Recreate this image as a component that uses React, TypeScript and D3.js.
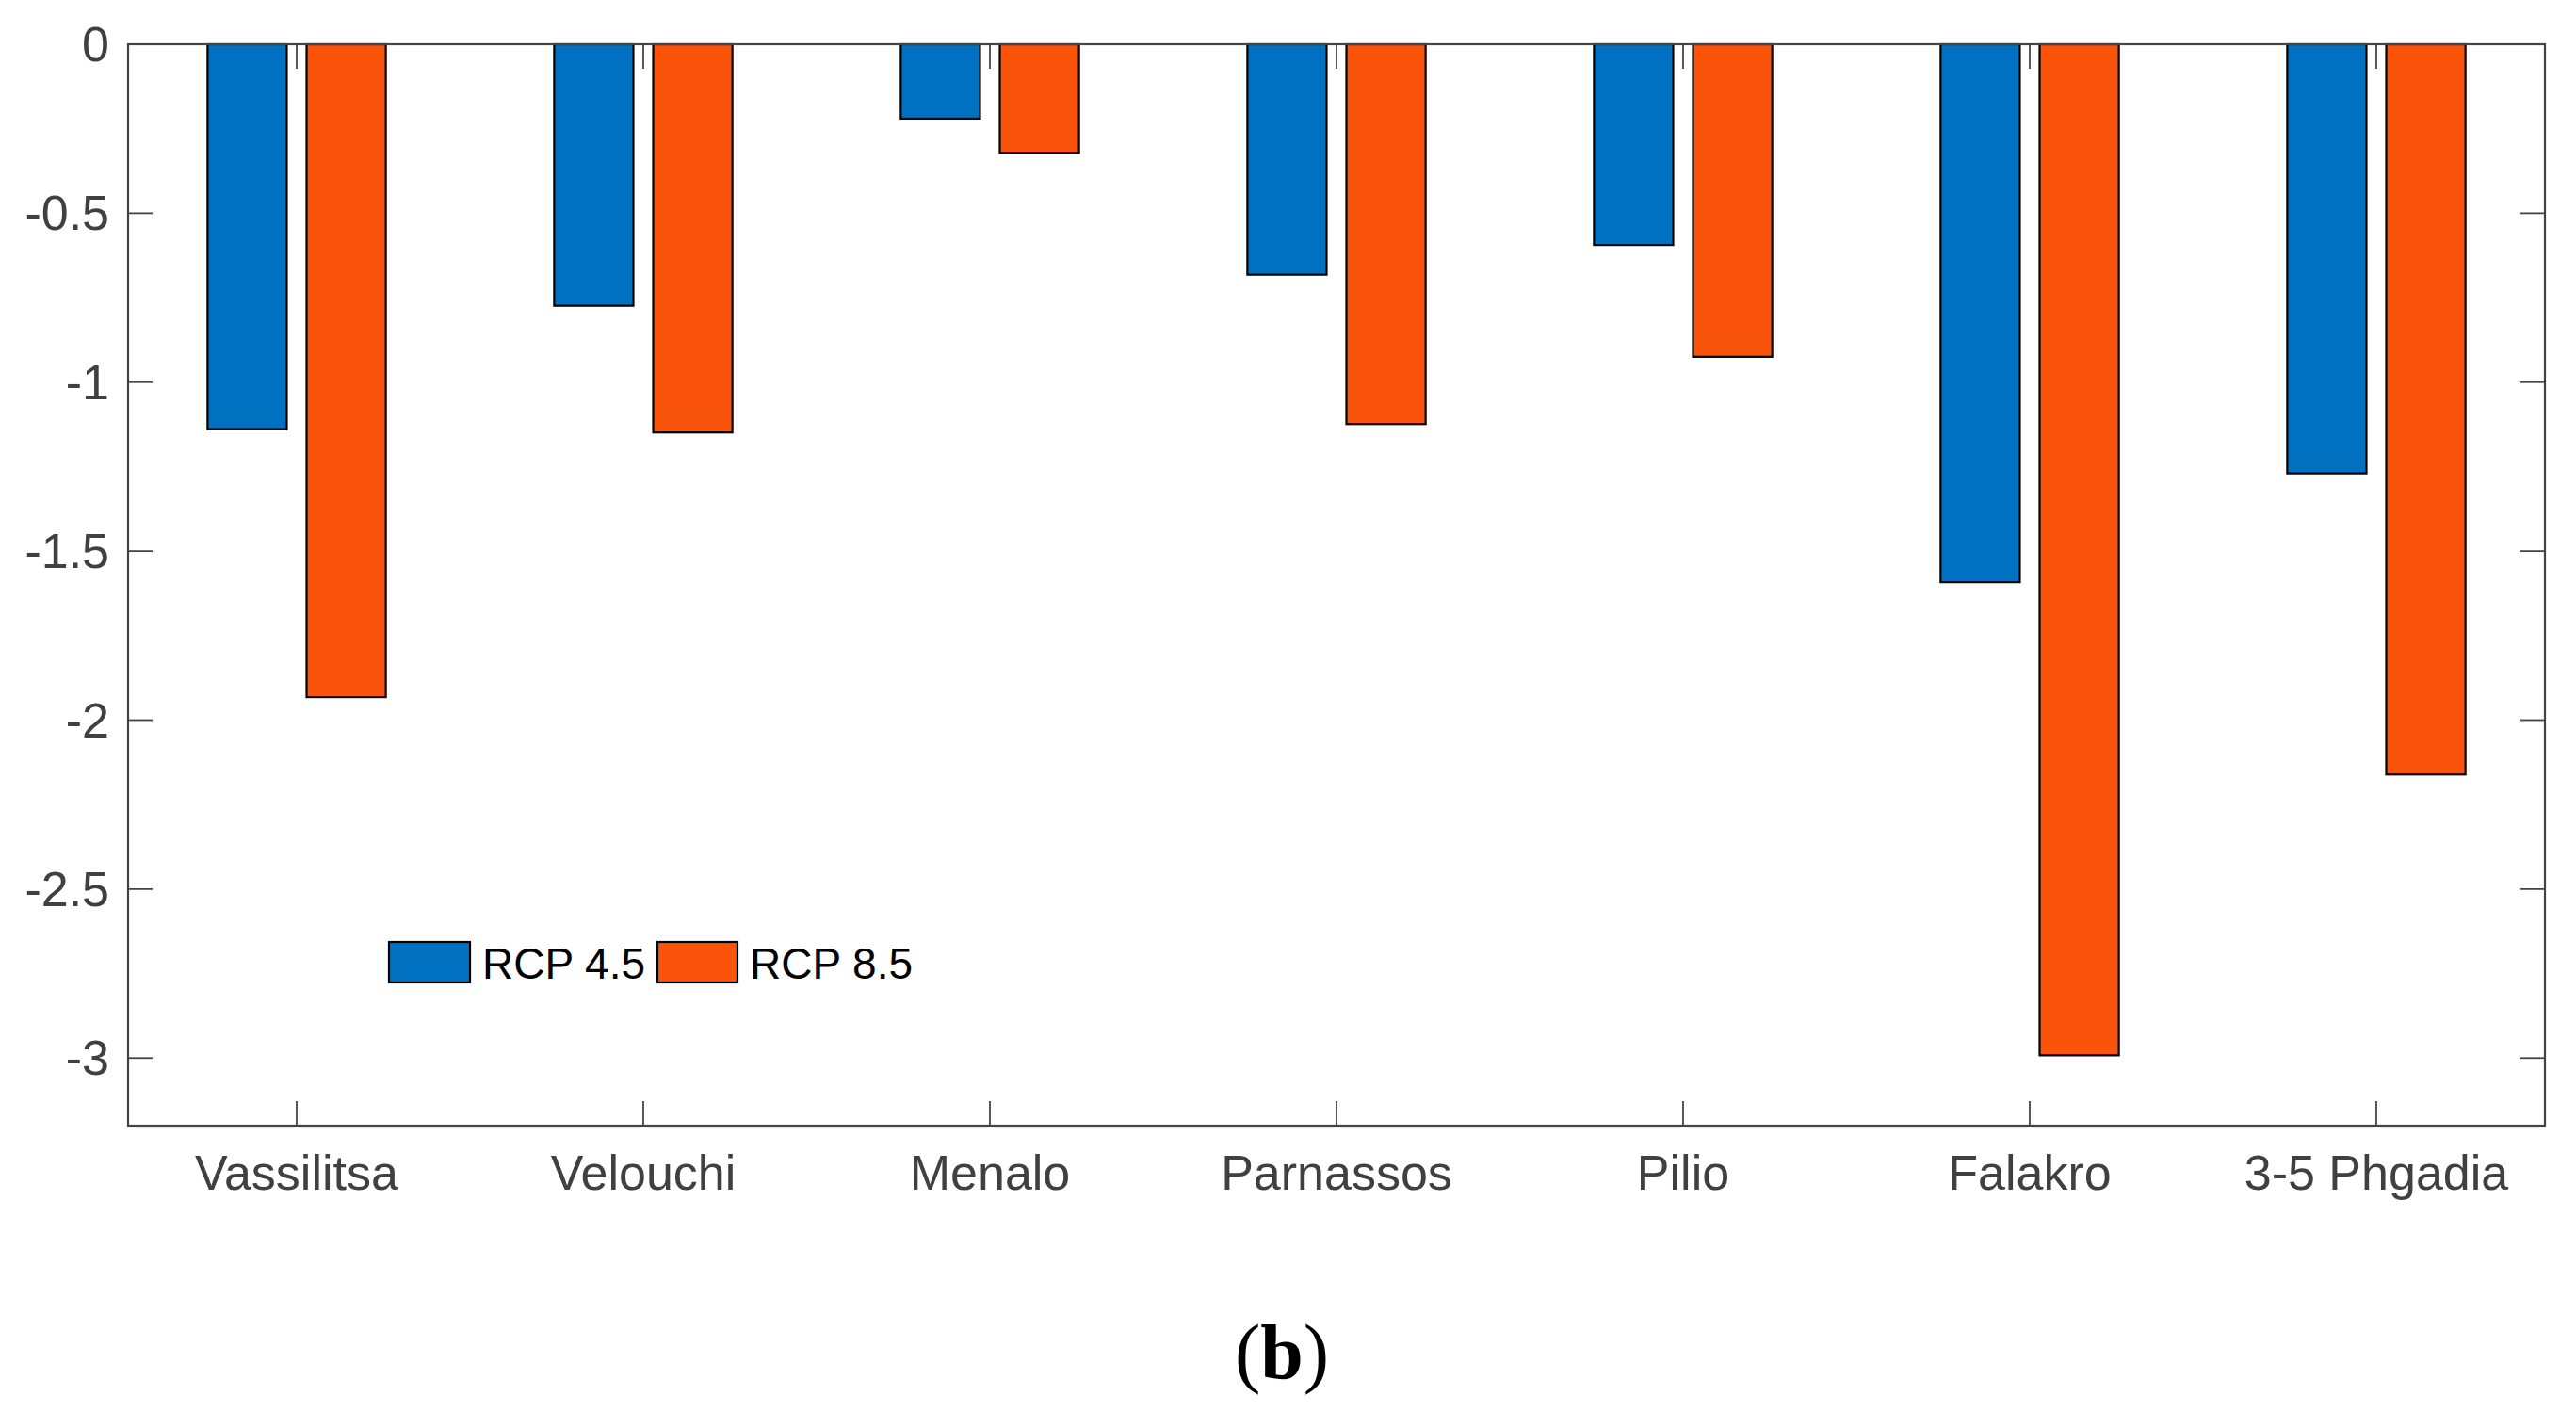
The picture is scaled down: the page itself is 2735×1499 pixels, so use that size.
import React from "react";
import * as d3 from "d3";

const categories = ["Vassilitsa", "Velouchi", "Menalo", "Parnassos", "Pilio", "Falakro", "3-5 Phgadia"];
const seriesNames = ["RCP 4.5", "RCP 8.5"];
const rcp45 = [-1.139, -0.774, -0.22, -0.682, -0.594, -1.592, -1.27];
const rcp85 = [-1.932, -1.149, -0.3215, -1.124, -0.925, -2.992, -2.161];
const yTicks = [0, -0.5, -1, -1.5, -2, -2.5, -3];
const yTickLabels = ["0", "-0.5", "-1", "-1.5", "-2", "-2.5", "-3"];
const seriesColors = ["#0072C1", "#FA530B"];
const panelLabel = "b";

const W = 2735;
const H = 1499;
const left = 136;
const right = 2702;
const top = 47;
const bottom = 1195;
const axisColor = "#444444";
const font = "'Liberation Sans', Arial, Helvetica, sans-serif";

export default function App() {
  const margin = 179 / 368;
  const x = d3
    .scaleLinear()
    .domain([1 - margin, categories.length + margin])
    .range([left, right]);
  const y = d3.scaleLinear().domain([-3.2, 0]).range([bottom, top]);
  const groupWidth = Math.min(0.8, 2 / (2 + 1.5));
  const barW = (groupWidth / 2) * 0.8;
  const offsets = [-groupWidth / 4, groupWidth / 4];
  const series = [rcp45, rcp85];
  const tickLen = 26;

  return (
    <svg
      width={W}
      height={H}
      style={{ position: "fixed", left: 0, top: 0, background: "#fff" }}
    >
      <rect x={0} y={0} width={W} height={H} fill="#fff" />
      {/* bars */}
      {series.map((vals, si) =>
        vals.map((v, i) => {
          const cx = x(i + 1) + (x(offsets[si]) - x(0));
          const w = x(barW) - x(0);
          const y0 = y(0);
          const y1 = y(v);
          return (
            <rect
              key={`b${si}-${i}`}
              x={cx - w / 2}
              y={Math.min(y0, y1)}
              width={w}
              height={Math.abs(y1 - y0)}
              fill={seriesColors[si]}
              stroke="#000"
              strokeWidth={2.2}
            />
          );
        })
      )}
      {/* y ticks */}
      {yTicks.map((t, i) => (
        <g key={`yt${i}`}>
          <line x1={left} x2={left + tickLen} y1={y(t)} y2={y(t)} stroke={axisColor} strokeWidth={1.8} />
          <line x1={right - tickLen} x2={right} y1={y(t)} y2={y(t)} stroke={axisColor} strokeWidth={1.8} />
          <text
            x={left - 20}
            y={y(t)}
            textAnchor="end"
            dominantBaseline="central"
            fontFamily={font}
            fontSize={52}
            fill="#404040"
          >
            {yTickLabels[i]}
          </text>
        </g>
      ))}
      {/* x ticks */}
      {categories.map((c, i) => (
        <g key={`xt${i}`}>
          <line x1={x(i + 1)} x2={x(i + 1)} y1={bottom} y2={bottom - tickLen} stroke={axisColor} strokeWidth={1.8} />
          <line x1={x(i + 1)} x2={x(i + 1)} y1={top} y2={top + tickLen} stroke={axisColor} strokeWidth={1.8} />
          <text
            x={x(i + 1)}
            y={1263}
            textAnchor="middle"
            fontFamily={font}
            fontSize={52}
            fill="#404040"
          >
            {c}
          </text>
        </g>
      ))}
      {/* axes box */}
      <rect x={left} y={top} width={right - left} height={bottom - top} fill="none" stroke={axisColor} strokeWidth={2.2} />
      {/* legend */}
      <g>
        <rect x={413} y={1000} width={86} height={43} fill={seriesColors[0]} stroke="#000" strokeWidth={2.2} />
        <text x={512} y={1039} fontFamily={font} fontSize={46} fill="#000">
          {seriesNames[0]}
        </text>
        <rect x={698} y={1000} width={85} height={43} fill={seriesColors[1]} stroke="#000" strokeWidth={2.2} />
        <text x={796} y={1039} fontFamily={font} fontSize={46} fill="#000">
          {seriesNames[1]}
        </text>
      </g>
      {/* panel label */}
      <text
        x={1361}
        y={1463}
        textAnchor="middle"
        fontFamily="'Liberation Serif', 'Times New Roman', serif"
        fontSize={82}
        fill="#000"
      >
        (<tspan fontWeight="bold">{panelLabel}</tspan>)
      </text>
    </svg>
  );
}
